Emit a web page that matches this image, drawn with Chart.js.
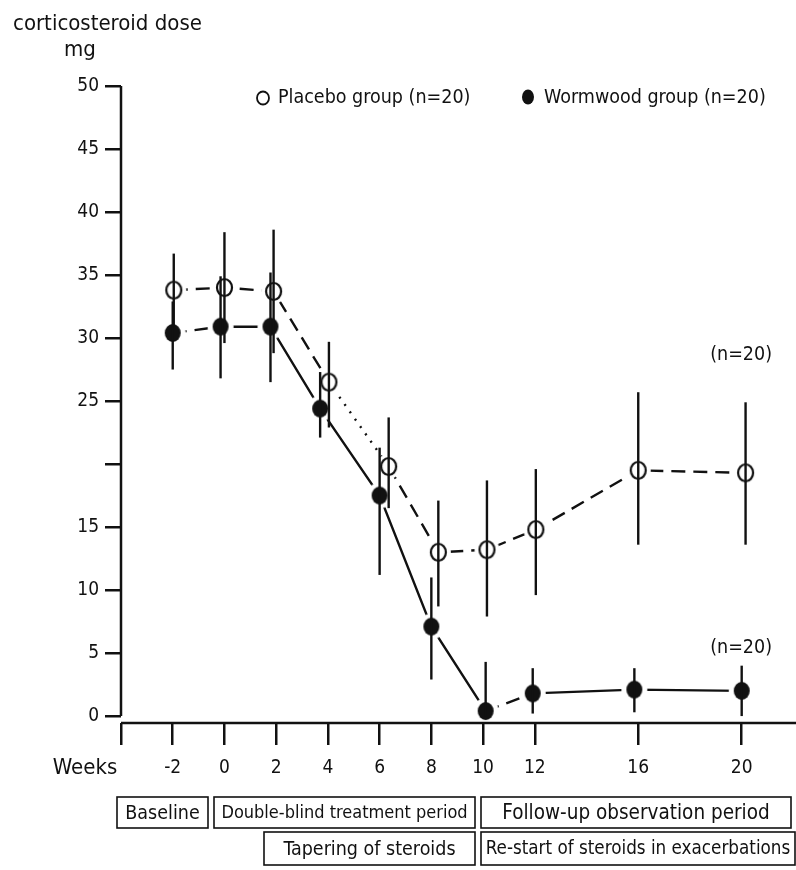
<!DOCTYPE html>
<html>
<head>
<meta charset="utf-8">
<script src="https://cdn.jsdelivr.net/npm/chart.js@4.4.0/dist/chart.umd.min.js"></script>
<style>
  html, body { margin: 0; padding: 0; background: #fff; }
  #wrap { width: 796px; height: 870px; }
</style>
</head>
<body>
<div id="wrap"><canvas id="doseChart" width="796" height="870"></canvas></div>
<script>
// weeks of the study and axis ticks
const weeks = [-2, 0, 2, 4, 6, 8, 10, 12, 16, 20];
const weekTicks = [-4, -2, 0, 2, 4, 6, 8, 10, 12, 16, 20];
const doseTicks = [0, 5, 10, 15, 20, 25, 30, 35, 40, 45, 50];

// corticosteroid dose (mg), mean and error bar ends
const placeboMean = [33.8, 34.0, 33.7, 26.5, 19.8, 13.0, 13.2, 14.8, 19.5, 19.3];
const placeboHigh = [36.7, 38.4, 38.6, 29.7, 23.7, 17.1, 18.7, 19.6, 25.7, 24.9];
const placeboLow = [30.9, 29.6, 28.8, 22.9, 16.5, 8.7, 7.9, 9.6, 13.6, 13.6];
const wormMean = [30.4, 30.9, 30.9, 24.4, 17.5, 7.1, 0.4, 1.8, 2.1, 2.0];
const wormHigh = [32.9, 34.9, 35.2, 27.3, 21.3, 11.0, 4.3, 3.8, 3.8, 4.0];
const wormLow = [27.5, 26.8, 26.5, 22.1, 11.2, 2.9, 0.0, 0.2, 0.3, 0.0];

// small horizontal offsets of the points (weeks) so the two groups don't overlap
const placeboShift = [0.04, 0, -0.1, 0.04, 0.35, 0.27, 0.15, 0.04, 0, 0.15];
const wormShift = [0, -0.15, -0.22, -0.3, 0, 0, 0.1, -0.08, -0.15, 0];

// study period boxes under the axis
const periodLabels = ['Baseline', 'Double-blind treatment period', 'Follow-up observation period',
  'Tapering of steroids', 'Re-start of steroids in exacerbations'];

const FONT = "'Liberation Sans Narrow', 'Arial Narrow', 'DejaVu Sans Condensed', sans-serif";
const INK = '#111';

function makeMarker(filled, r) {
  const halo = r + 5;
  const c = document.createElement('canvas');
  c.width = c.height = halo * 2 + 2;
  const g = c.getContext('2d');
  const m = c.width / 2;
  g.fillStyle = '#fff';
  g.beginPath();
  g.arc(m, m, halo, 0, Math.PI * 2);
  g.fill();
  g.beginPath();
  g.ellipse(m, m, r, r + 1, 0, 0, Math.PI * 2);
  if (filled) {
    g.fillStyle = INK;
    g.fill();
  } else {
    g.lineWidth = 2.2;
    g.strokeStyle = INK;
    g.stroke();
  }
  return c;
}

const errorBars = {
  id: 'errorBars',
  afterDatasetsDraw(chart) {
    const { ctx, scales: { x, y }, chartArea } = chart;
    ctx.save();
    ctx.strokeStyle = INK;
    ctx.lineWidth = 2.4;
    ctx.setLineDash([]);
    [[placeboShift, placeboLow, placeboHigh], [wormShift, wormLow, wormHigh]].forEach(([shift, low, high]) => {
      weeks.forEach((w, i) => {
        const px = x.getPixelForValue(w + shift[i]);
        ctx.beginPath();
        ctx.moveTo(px, y.getPixelForValue(low[i]));
        ctx.lineTo(px, y.getPixelForValue(high[i]));
        ctx.stroke();
      });
    });
    // axis lines
    ctx.lineWidth = 2.5;
    ctx.beginPath();
    ctx.moveTo(chartArea.left, y.getPixelForValue(50));
    ctx.lineTo(chartArea.left, y.getPixelForValue(0));
    ctx.moveTo(chartArea.left, chartArea.bottom);
    ctx.lineTo(chartArea.right, chartArea.bottom);
    ctx.stroke();
    ctx.restore();
  }
};

const annotations = {
  id: 'annotations',
  afterDraw(chart) {
    const { ctx } = chart;
    ctx.save();
    ctx.fillStyle = INK;
    ctx.strokeStyle = INK;

    ctx.font = '22px ' + FONT;
    ctx.textBaseline = 'alphabetic';
    ctx.textAlign = 'left';
    ctx.fillText('corticosteroid dose', 13, 30);
    ctx.textAlign = 'center';
    ctx.fillText('mg', 80, 56);

    // legend
    ctx.font = '19.5px ' + FONT;
    ctx.textAlign = 'left';
    ctx.textBaseline = 'middle';
    ctx.lineWidth = 1.8;
    ctx.beginPath();
    ctx.ellipse(263, 98, 6, 6.5, 0, 0, Math.PI * 2);
    ctx.stroke();
    ctx.fillText('Placebo group (n=20)', 278, 98);
    ctx.beginPath();
    ctx.ellipse(528, 97, 6, 7.5, 0, 0, Math.PI * 2);
    ctx.fill();
    ctx.fillText('Wormwood group (n=20)', 544, 98);

    ctx.textAlign = 'right';
    ctx.fillText('(n=20)', 772, 355);
    ctx.fillText('(n=20)', 772, 648);

    ctx.font = '22px ' + FONT;
    ctx.textAlign = 'center';
    ctx.fillText('Weeks', 85, 768);

    // boxes: x, y, w, h, font size
    const boxes = [
      [117, 797, 91, 31, 19.5],
      [214, 797, 261, 31, 18],
      [481, 797, 310, 31, 20.5],
      [264, 832, 211, 33, 19.5],
      [481, 832, 314, 33, 18.7]
    ];
    ctx.lineWidth = 1.6;
    boxes.forEach(([bx, by, bw, bh, fs], i) => {
      ctx.strokeRect(bx, by, bw, bh);
      ctx.font = fs + 'px ' + FONT;
      ctx.fillText(periodLabels[i], bx + bw / 2, by + bh / 2 + 1);
    });
    ctx.restore();
  }
};

const ctx = document.getElementById('doseChart').getContext('2d');
new Chart(ctx, {
  type: 'line',
  data: {
    datasets: [
      {
        label: 'Placebo group (n=20)',
        data: weeks.map((w, i) => ({ x: w + placeboShift[i], y: placeboMean[i] })),
        borderColor: INK,
        borderWidth: 2.4,
        borderDash: [14, 8],
        pointStyle: makeMarker(false, 7.5),
        segment: {
          borderDash: (c) => (c.p0DataIndex === 3 ? [2, 7] : [14, 8])
        }
      },
      {
        label: 'Wormwood group (n=20)',
        data: weeks.map((w, i) => ({ x: w + wormShift[i], y: wormMean[i] })),
        borderColor: INK,
        borderWidth: 2.4,
        pointStyle: makeMarker(true, 8),
        segment: {
          borderDash: (c) => (c.p0DataIndex === 0 || c.p0DataIndex === 6 ? [14, 8] : [])
        }
      }
    ]
  },
  options: {
    responsive: false,
    animation: false,
    events: [],
    layout: { autoPadding: false, padding: { top: 86, left: 0, right: 0, bottom: 0 } },
    plugins: {
      legend: { display: false },
      tooltip: { enabled: false }
    },
    scales: {
      x: {
        type: 'linear',
        min: -4,
        max: 22.1,
        afterBuildTicks: (s) => { s.ticks = weekTicks.map((v) => ({ value: v })); },
        afterFit: (s) => {
          s.height = 147;
          s.paddingLeft = 0;
          s.paddingRight = 0;
        },
        border: { display: false },
        grid: { drawOnChartArea: false, tickLength: 22, color: INK, lineWidth: 2.5 },
        ticks: {
          padding: 12,
          color: INK,
          maxRotation: 0,
          autoSkip: false,
          font: { family: FONT, size: 19 },
          callback: (v) => (v === -4 ? '' : String(v))
        }
      },
      y: {
        type: 'linear',
        min: -0.55,
        max: 50,
        afterBuildTicks: (s) => { s.ticks = doseTicks.map((v) => ({ value: v })); },
        afterFit: (s) => { s.width = 121; },
        border: { display: false },
        grid: { drawOnChartArea: false, tickLength: 16, color: INK, lineWidth: 2.5 },
        ticks: {
          padding: 6,
          color: INK,
          font: { family: FONT, size: 19 },
          callback: (v) => (v === 20 ? '' : String(v))
        }
      }
    }
  },
  plugins: [errorBars, annotations]
});
</script>
</body>
</html>
